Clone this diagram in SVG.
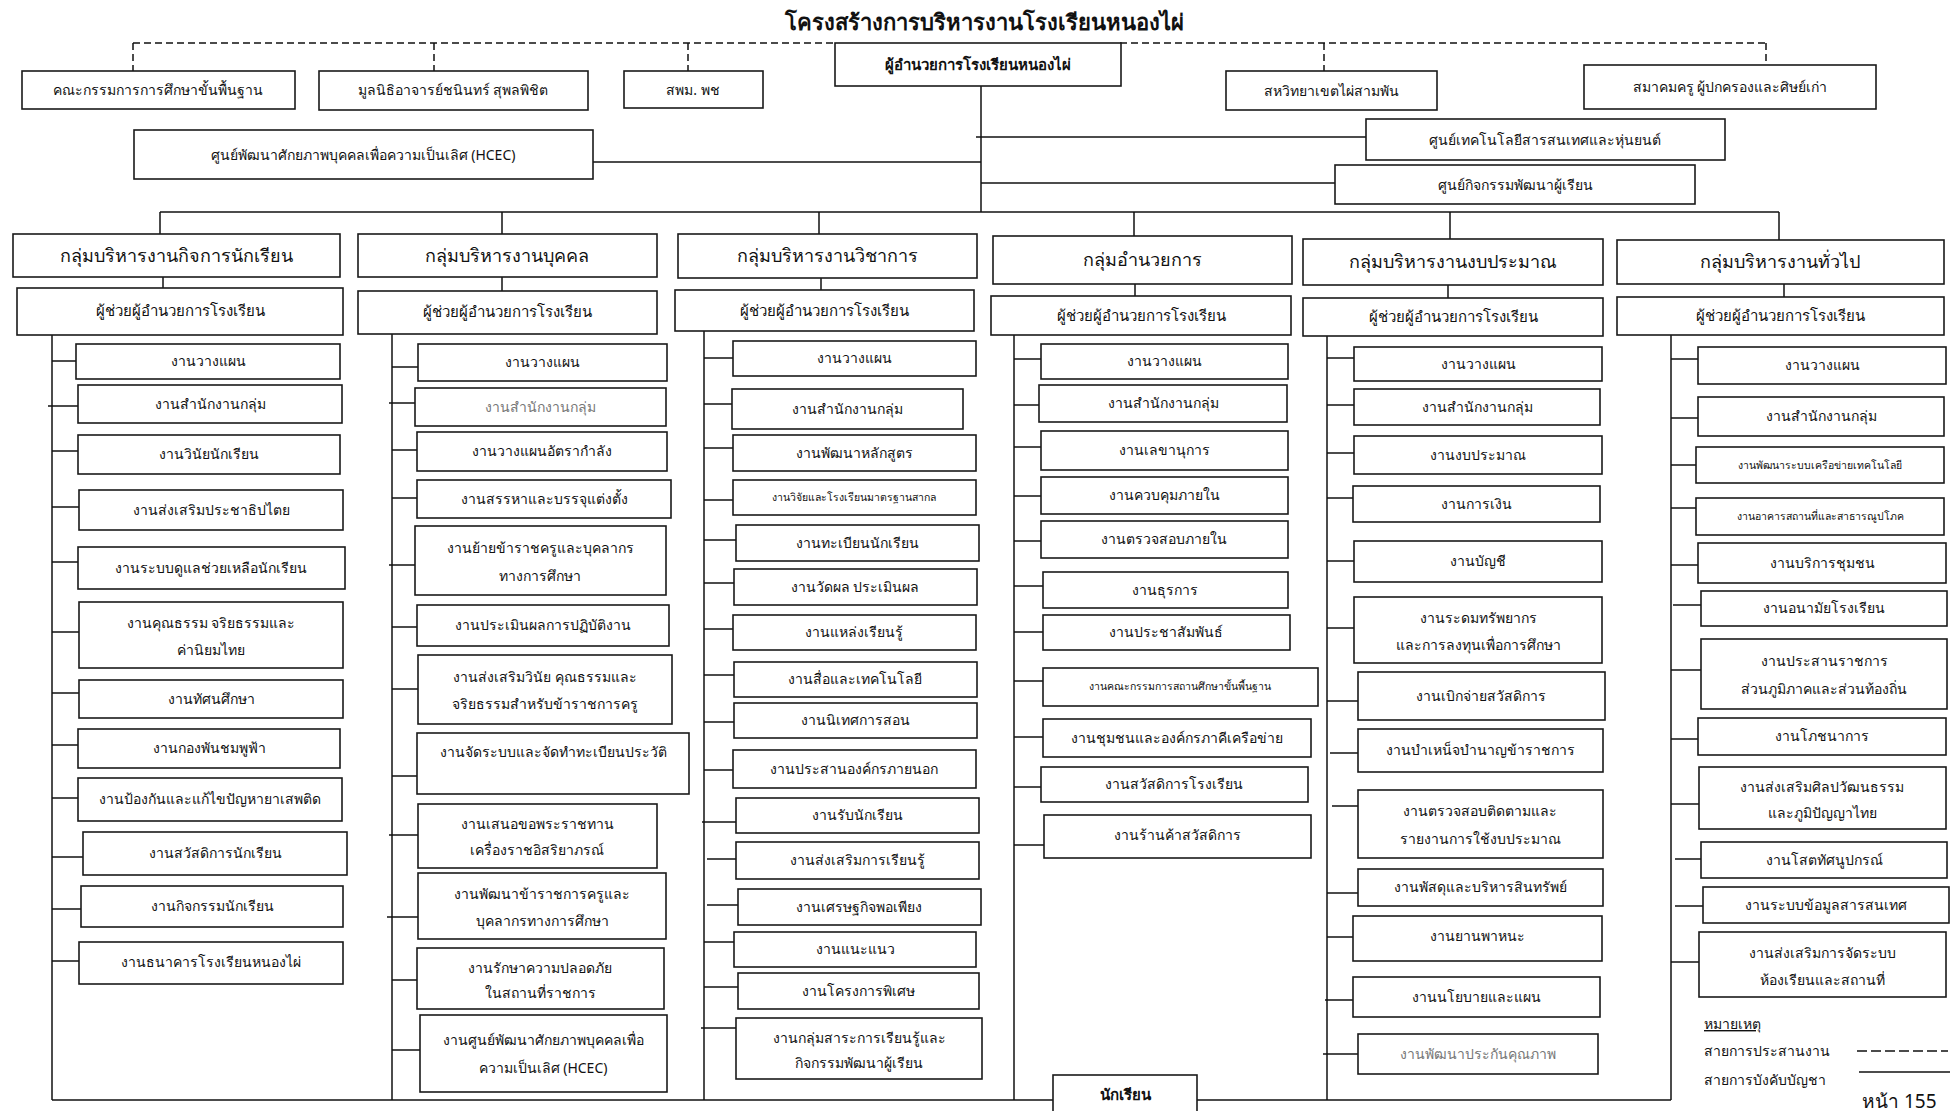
<svg xmlns="http://www.w3.org/2000/svg" width="1953" height="1111" viewBox="0 0 1953 1111">
<style>
.b{fill:#fff;stroke:#1a1a1a;stroke-width:1.6}
text{font-family:'Noto Sans','DejaVu Sans',sans-serif;fill:#111;text-anchor:middle;font-size:14px}
.g{font-size:18px}
.a{font-size:15px}
.s{font-size:10.5px}
.bold{font-weight:bold}
.gray{fill:#777}
.l{text-anchor:start}
.c line{stroke:#111;stroke-width:1.5;fill:none}
.c .d{stroke-dasharray:7 4}
</style>
<rect width="1953" height="1111" fill="#fff"/>
<text id="title" x="984" y="30" class="bold" style="font-size:22px">โครงสร้างการบริหารงานโรงเรียนหนองไผ่</text>
<g class="c" id="connectors">
<line class="d" x1="133" y1="43" x2="834" y2="43"/>
<line class="d" x1="1120" y1="43" x2="1766" y2="43"/>
<line class="d" x1="133" y1="43" x2="133" y2="71"/>
<line class="d" x1="434" y1="43" x2="434" y2="71"/>
<line class="d" x1="688" y1="43" x2="688" y2="71"/>
<line class="d" x1="1324" y1="43" x2="1324" y2="71"/>
<line class="d" x1="1766" y1="43" x2="1766" y2="65"/>
<line x1="981" y1="86" x2="981" y2="212"/>
<line x1="593" y1="162" x2="981" y2="162"/>
<line x1="976" y1="137" x2="1366" y2="137"/>
<line x1="981" y1="183" x2="1335" y2="183"/>
<line x1="160" y1="212" x2="1779" y2="212"/>
<line x1="160" y1="212" x2="160" y2="234"/>
<line x1="502" y1="212" x2="502" y2="234"/>
<line x1="819" y1="212" x2="819" y2="234"/>
<line x1="1134" y1="212" x2="1134" y2="236"/>
<line x1="1450" y1="212" x2="1450" y2="239"/>
<line x1="1779" y1="212" x2="1779" y2="240"/>
<line x1="163" y1="277" x2="163" y2="288"/>
<line x1="502" y1="277" x2="502" y2="291"/>
<line x1="821" y1="278" x2="821" y2="290"/>
<line x1="1135" y1="284" x2="1135" y2="296"/>
<line x1="1448" y1="285" x2="1448" y2="298"/>
<line x1="1784" y1="284" x2="1784" y2="297"/>
<line x1="52" y1="335" x2="52" y2="1100"/>
<line x1="392" y1="334" x2="392" y2="1100"/>
<line x1="704" y1="331" x2="704" y2="1100"/>
<line x1="1014" y1="335" x2="1014" y2="1100"/>
<line x1="1327" y1="336" x2="1327" y2="1100"/>
<line x1="1671" y1="335" x2="1671" y2="1100"/>
<line x1="52" y1="1100" x2="1671" y2="1100"/>
<line x1="52" y1="361" x2="76" y2="361"/><line x1="48" y1="406" x2="78" y2="406"/><line x1="52" y1="451" x2="78" y2="451"/><line x1="52" y1="507" x2="79" y2="507"/><line x1="52" y1="562" x2="78" y2="562"/><line x1="52" y1="632" x2="79" y2="632"/><line x1="52" y1="693" x2="79" y2="693"/><line x1="52" y1="745" x2="78" y2="745"/><line x1="52" y1="798" x2="78" y2="798"/><line x1="52" y1="857" x2="83" y2="857"/><line x1="52" y1="909" x2="81" y2="909"/><line x1="52" y1="961" x2="79" y2="961"/>
<line x1="392" y1="367" x2="418" y2="367"/><line x1="389" y1="403" x2="415" y2="403"/><line x1="392" y1="450" x2="417" y2="450"/><line x1="392" y1="498" x2="417" y2="498"/><line x1="389" y1="565" x2="415" y2="565"/><line x1="392" y1="627" x2="417" y2="627"/><line x1="392" y1="689" x2="418" y2="689"/><line x1="392" y1="776" x2="417" y2="776"/><line x1="389" y1="835" x2="418" y2="835"/><line x1="387" y1="917" x2="418" y2="917"/><line x1="392" y1="980" x2="417" y2="980"/><line x1="392" y1="1050" x2="420" y2="1050"/>
<line x1="704" y1="358" x2="733" y2="358"/><line x1="704" y1="404" x2="732" y2="404"/><line x1="704" y1="448" x2="733" y2="448"/><line x1="704" y1="500" x2="733" y2="500"/><line x1="704" y1="540" x2="736" y2="540"/><line x1="704" y1="583" x2="734" y2="583"/><line x1="704" y1="629" x2="733" y2="629"/><line x1="704" y1="675" x2="734" y2="675"/><line x1="704" y1="722" x2="734" y2="722"/><line x1="704" y1="770" x2="733" y2="770"/><line x1="702" y1="822" x2="736" y2="822"/><line x1="707" y1="859" x2="736" y2="859"/><line x1="707" y1="905" x2="738" y2="905"/><line x1="704" y1="942" x2="734" y2="942"/><line x1="704" y1="987" x2="738" y2="987"/><line x1="701" y1="1028" x2="736" y2="1028"/>
<line x1="1014" y1="359" x2="1041" y2="359"/><line x1="1014" y1="405" x2="1039" y2="405"/><line x1="1014" y1="447" x2="1041" y2="447"/><line x1="1014" y1="496" x2="1041" y2="496"/><line x1="1014" y1="541" x2="1041" y2="541"/><line x1="1014" y1="586" x2="1043" y2="586"/><line x1="1014" y1="632" x2="1043" y2="632"/><line x1="1014" y1="681" x2="1043" y2="681"/><line x1="1014" y1="737" x2="1043" y2="737"/><line x1="1014" y1="787" x2="1041" y2="787"/><line x1="1014" y1="845" x2="1044" y2="845"/>
<line x1="1327" y1="358" x2="1354" y2="358"/><line x1="1327" y1="405" x2="1354" y2="405"/><line x1="1327" y1="453" x2="1354" y2="453"/><line x1="1327" y1="498" x2="1353" y2="498"/><line x1="1327" y1="561" x2="1354" y2="561"/><line x1="1327" y1="628" x2="1354" y2="628"/><line x1="1327" y1="701" x2="1358" y2="701"/><line x1="1330" y1="753" x2="1358" y2="753"/><line x1="1332" y1="806" x2="1358" y2="806"/><line x1="1327" y1="893" x2="1358" y2="893"/><line x1="1327" y1="937" x2="1353" y2="937"/><line x1="1325" y1="1000" x2="1353" y2="1000"/><line x1="1323" y1="1054" x2="1358" y2="1054"/>
<line x1="1671" y1="359" x2="1698" y2="359"/><line x1="1671" y1="418" x2="1698" y2="418"/><line x1="1671" y1="465" x2="1700" y2="465"/><line x1="1671" y1="508" x2="1700" y2="508"/><line x1="1671" y1="565" x2="1698" y2="565"/><line x1="1673" y1="605" x2="1701" y2="605"/><line x1="1671" y1="670" x2="1701" y2="670"/><line x1="1671" y1="739" x2="1698" y2="739"/><line x1="1671" y1="804" x2="1699" y2="804"/><line x1="1675" y1="859" x2="1701" y2="859"/><line x1="1675" y1="906" x2="1703" y2="906"/><line x1="1671" y1="962" x2="1699" y2="962"/>
</g>
<g id="director"><rect class="b" x="835" y="43" width="286" height="43"/><text x="978" y="70" class="bold a">ผู้อำนวยการโรงเรียนหนองไผ่</text></g>
<g id="h1"><rect class="b" x="22" y="71" width="273" height="38"/><text x="158" y="95">คณะกรรมการการศึกษาขั้นพื้นฐาน</text></g>
<g id="h2"><rect class="b" x="319" y="71" width="269" height="39"/><text x="453" y="95">มูลนิธิอาจารย์ชนินทร์ สุพลพิชิต</text></g>
<g id="h3"><rect class="b" x="624" y="71" width="139" height="37"/><text x="693" y="95">สพม. พช</text></g>
<g id="h4"><rect class="b" x="1226" y="71" width="211" height="39"/><text x="1331" y="96">สหวิทยาเขตไผ่สามพัน</text></g>
<g id="h5"><rect class="b" x="1584" y="65" width="292" height="44"/><text x="1730" y="92">สมาคมครู ผู้ปกครองและศิษย์เก่า</text></g>
<g id="hcec"><rect class="b" x="134" y="130" width="459" height="49"/><text x="363" y="160">ศูนย์พัฒนาศักยภาพบุคคลเพื่อความเป็นเลิศ (HCEC)</text></g>
<g id="ict"><rect class="b" x="1366" y="119" width="359" height="41"/><text x="1545" y="145">ศูนย์เทคโนโลยีสารสนเทศและหุ่นยนต์</text></g>
<g id="act"><rect class="b" x="1335" y="165" width="360" height="39"/><text x="1515" y="190">ศูนย์กิจกรรมพัฒนาผู้เรียน</text></g>
<g id="student"><rect class="b" x="1053" y="1075" width="144" height="45"/><text x="1125" y="1100" class="bold a">นักเรียน</text></g>

<g id="g1"><rect class="b" x="13" y="234" width="327" height="43"/><text x="176" y="262" class="g">กลุ่มบริหารงานกิจการนักเรียน</text></g>
<g id="g1a"><rect class="b" x="17" y="288" width="326" height="47"/><text x="180" y="316" class="a">ผู้ช่วยผู้อำนวยการโรงเรียน</text></g>
<g id="g1-1"><rect class="b" x="76" y="344" width="264" height="35"/><text x="208" y="366">งานวางแผน</text></g>
<g id="g1-2"><rect class="b" x="78" y="385" width="264" height="38"/><text x="210" y="409">งานสำนักงานกลุ่ม</text></g>
<g id="g1-3"><rect class="b" x="78" y="435" width="262" height="39"/><text x="209" y="459">งานวินัยนักเรียน</text></g>
<g id="g1-4"><rect class="b" x="79" y="490" width="264" height="40"/><text x="211" y="515">งานส่งเสริมประชาธิปไตย</text></g>
<g id="g1-5"><rect class="b" x="78" y="547" width="267" height="42"/><text x="211" y="573">งานระบบดูแลช่วยเหลือนักเรียน</text></g>
<g id="g1-6"><rect class="b" x="79" y="602" width="264" height="66"/><text x="211" y="628">งานคุณธรรม จริยธรรมและ</text><text x="211" y="655">ค่านิยมไทย</text></g>
<g id="g1-7"><rect class="b" x="79" y="680" width="264" height="38"/><text x="211" y="704">งานทัศนศึกษา</text></g>
<g id="g1-8"><rect class="b" x="78" y="729" width="262" height="39"/><text x="209" y="753">งานกองพันชมพูฟ้า</text></g>
<g id="g1-9"><rect class="b" x="78" y="778" width="264" height="43"/><text x="210" y="804">งานป้องกันและแก้ไขปัญหายาเสพติด</text></g>
<g id="g1-10"><rect class="b" x="83" y="832" width="264" height="43"/><text x="215" y="858">งานสวัสดิการนักเรียน</text></g>
<g id="g1-11"><rect class="b" x="81" y="886" width="262" height="41"/><text x="212" y="911">งานกิจกรรมนักเรียน</text></g>
<g id="g1-12"><rect class="b" x="79" y="942" width="264" height="42"/><text x="211" y="967">งานธนาคารโรงเรียนหนองไผ่</text></g>

<g id="g2"><rect class="b" x="358" y="234" width="299" height="43"/><text x="507" y="262" class="g">กลุ่มบริหารงานบุคคล</text></g>
<g id="g2a"><rect class="b" x="358" y="291" width="299" height="43"/><text x="507" y="317" class="a">ผู้ช่วยผู้อำนวยการโรงเรียน</text></g>
<g id="g2-1"><rect class="b" x="418" y="344" width="249" height="37"/><text x="542" y="367">งานวางแผน</text></g>
<g id="g2-2"><rect class="b" x="415" y="388" width="251" height="38"/><text x="540" y="412" class="gray">งานสำนักงานกลุ่ม</text></g>
<g id="g2-3"><rect class="b" x="417" y="432" width="250" height="39"/><text x="542" y="456">งานวางแผนอัตรากำลัง</text></g>
<g id="g2-4"><rect class="b" x="417" y="480" width="254" height="38"/><text x="544" y="504">งานสรรหาและบรรจุแต่งตั้ง</text></g>
<g id="g2-5"><rect class="b" x="415" y="526" width="251" height="69"/><text x="540" y="553">งานย้ายข้าราชครูและบุคลากร</text><text x="540" y="581">ทางการศึกษา</text></g>
<g id="g2-6"><rect class="b" x="417" y="605" width="252" height="41"/><text x="543" y="630">งานประเมินผลการปฏิบัติงาน</text></g>
<g id="g2-7"><rect class="b" x="418" y="655" width="254" height="69"/><text x="545" y="682">งานส่งเสริมวินัย คุณธรรมและ</text><text x="545" y="709">จริยธรรมสำหรับข้าราชการครู</text></g>
<g id="g2-8"><rect class="b" x="417" y="733" width="272" height="61"/><text x="553" y="757">งานจัดระบบและจัดทำทะเบียนประวัติ</text></g>
<g id="g2-9"><rect class="b" x="418" y="804" width="239" height="64"/><text x="537" y="829">งานเสนอขอพระราชทาน</text><text x="537" y="855">เครื่องราชอิสริยาภรณ์</text></g>
<g id="g2-10"><rect class="b" x="418" y="873" width="248" height="66"/><text x="542" y="899">งานพัฒนาข้าราชการครูและ</text><text x="542" y="926">บุคลากรทางการศึกษา</text></g>
<g id="g2-11"><rect class="b" x="417" y="948" width="247" height="61"/><text x="540" y="973">งานรักษาความปลอดภัย</text><text x="540" y="998">ในสถานที่ราชการ</text></g>
<g id="g2-12"><rect class="b" x="420" y="1015" width="247" height="77"/><text x="543" y="1045">งานศูนย์พัฒนาศักยภาพบุคคลเพื่อ</text><text x="543" y="1073">ความเป็นเลิศ (HCEC)</text></g>

<g id="g3"><rect class="b" x="678" y="234" width="299" height="44"/><text x="827" y="262" class="g">กลุ่มบริหารงานวิชาการ</text></g>
<g id="g3a"><rect class="b" x="675" y="290" width="299" height="41"/><text x="824" y="316" class="a">ผู้ช่วยผู้อำนวยการโรงเรียน</text></g>
<g id="g3-1"><rect class="b" x="733" y="341" width="243" height="35"/><text x="854" y="363">งานวางแผน</text></g>
<g id="g3-2"><rect class="b" x="732" y="389" width="231" height="40"/><text x="847" y="414">งานสำนักงานกลุ่ม</text></g>
<g id="g3-3"><rect class="b" x="733" y="435" width="243" height="36"/><text x="854" y="458">งานพัฒนาหลักสูตร</text></g>
<g id="g3-4"><rect class="b" x="733" y="480" width="243" height="35"/><text x="854" y="501" class="s">งานวิจัยและโรงเรียนมาตรฐานสากล</text></g>
<g id="g3-5"><rect class="b" x="736" y="525" width="243" height="36"/><text x="857" y="548">งานทะเบียนนักเรียน</text></g>
<g id="g3-6"><rect class="b" x="734" y="569" width="243" height="36"/><text x="855" y="592">งานวัดผล ประเมินผล</text></g>
<g id="g3-7"><rect class="b" x="733" y="615" width="243" height="35"/><text x="854" y="637">งานแหล่งเรียนรู้</text></g>
<g id="g3-8"><rect class="b" x="734" y="662" width="243" height="35"/><text x="855" y="684">งานสื่อและเทคโนโลยี</text></g>
<g id="g3-9"><rect class="b" x="734" y="703" width="243" height="35"/><text x="855" y="725">งานนิเทศการสอน</text></g>
<g id="g3-10"><rect class="b" x="733" y="750" width="243" height="38"/><text x="854" y="774">งานประสานองค์กรภายนอก</text></g>
<g id="g3-11"><rect class="b" x="736" y="798" width="243" height="35"/><text x="857" y="820">งานรับนักเรียน</text></g>
<g id="g3-12"><rect class="b" x="736" y="842" width="243" height="37"/><text x="857" y="865">งานส่งเสริมการเรียนรู้</text></g>
<g id="g3-13"><rect class="b" x="738" y="889" width="243" height="36"/><text x="859" y="912">งานเศรษฐกิจพอเพียง</text></g>
<g id="g3-14"><rect class="b" x="734" y="932" width="242" height="35"/><text x="855" y="954">งานแนะแนว</text></g>
<g id="g3-15"><rect class="b" x="738" y="973" width="241" height="36"/><text x="858" y="996">งานโครงการพิเศษ</text></g>
<g id="g3-16"><rect class="b" x="736" y="1018" width="246" height="61"/><text x="859" y="1043">งานกลุ่มสาระการเรียนรู้และ</text><text x="859" y="1068">กิจกรรมพัฒนาผู้เรียน</text></g>

<g id="g4"><rect class="b" x="993" y="236" width="299" height="48"/><text x="1142" y="266" class="g">กลุ่มอำนวยการ</text></g>
<g id="g4a"><rect class="b" x="991" y="296" width="300" height="39"/><text x="1141" y="321" class="a">ผู้ช่วยผู้อำนวยการโรงเรียน</text></g>
<g id="g4-1"><rect class="b" x="1041" y="344" width="247" height="35"/><text x="1164" y="366">งานวางแผน</text></g>
<g id="g4-2"><rect class="b" x="1039" y="385" width="248" height="37"/><text x="1163" y="408">งานสำนักงานกลุ่ม</text></g>
<g id="g4-3"><rect class="b" x="1041" y="431" width="247" height="39"/><text x="1164" y="455">งานเลขานุการ</text></g>
<g id="g4-4"><rect class="b" x="1041" y="477" width="247" height="37"/><text x="1164" y="500">งานควบคุมภายใน</text></g>
<g id="g4-5"><rect class="b" x="1041" y="521" width="247" height="37"/><text x="1164" y="544">งานตรวจสอบภายใน</text></g>
<g id="g4-6"><rect class="b" x="1043" y="572" width="245" height="36"/><text x="1165" y="595">งานธุรการ</text></g>
<g id="g4-7"><rect class="b" x="1043" y="615" width="247" height="35"/><text x="1166" y="637">งานประชาสัมพันธ์</text></g>
<g id="g4-8"><rect class="b" x="1043" y="668" width="275" height="38"/><text x="1180" y="690" class="s">งานคณะกรรมการสถานศึกษาขั้นพื้นฐาน</text></g>
<g id="g4-9"><rect class="b" x="1043" y="719" width="268" height="38"/><text x="1177" y="743">งานชุมชนและองค์กรภาคีเครือข่าย</text></g>
<g id="g4-10"><rect class="b" x="1041" y="767" width="267" height="35"/><text x="1174" y="789">งานสวัสดิการโรงเรียน</text></g>
<g id="g4-11"><rect class="b" x="1044" y="815" width="267" height="43"/><text x="1177" y="840">งานร้านค้าสวัสดิการ</text></g>

<g id="g5"><rect class="b" x="1303" y="239" width="300" height="46"/><text x="1453" y="268" class="g">กลุ่มบริหารงานงบประมาณ</text></g>
<g id="g5a"><rect class="b" x="1303" y="298" width="300" height="38"/><text x="1453" y="322" class="a">ผู้ช่วยผู้อำนวยการโรงเรียน</text></g>
<g id="g5-1"><rect class="b" x="1354" y="347" width="248" height="34"/><text x="1478" y="369">งานวางแผน</text></g>
<g id="g5-2"><rect class="b" x="1354" y="389" width="246" height="36"/><text x="1477" y="412">งานสำนักงานกลุ่ม</text></g>
<g id="g5-3"><rect class="b" x="1354" y="436" width="248" height="38"/><text x="1478" y="460">งานงบประมาณ</text></g>
<g id="g5-4"><rect class="b" x="1353" y="486" width="247" height="36"/><text x="1476" y="509">งานการเงิน</text></g>
<g id="g5-5"><rect class="b" x="1354" y="541" width="248" height="41"/><text x="1478" y="566">งานบัญชี</text></g>
<g id="g5-6"><rect class="b" x="1354" y="597" width="248" height="66"/><text x="1478" y="623">งานระดมทรัพยากร</text><text x="1478" y="650">และการลงทุนเพื่อการศึกษา</text></g>
<g id="g5-7"><rect class="b" x="1358" y="672" width="247" height="48"/><text x="1481" y="701">งานเบิกจ่ายสวัสดิการ</text></g>
<g id="g5-8"><rect class="b" x="1358" y="729" width="245" height="43"/><text x="1480" y="755">งานบำเหน็จบำนาญข้าราชการ</text></g>
<g id="g5-9"><rect class="b" x="1358" y="790" width="245" height="68"/><text x="1480" y="816">งานตรวจสอบติดตามและ</text><text x="1480" y="844">รายงานการใช้งบประมาณ</text></g>
<g id="g5-10"><rect class="b" x="1358" y="869" width="245" height="37"/><text x="1480" y="892">งานพัสดุและบริหารสินทรัพย์</text></g>
<g id="g5-11"><rect class="b" x="1353" y="916" width="249" height="45"/><text x="1477" y="941">งานยานพาหนะ</text></g>
<g id="g5-12"><rect class="b" x="1353" y="977" width="247" height="40"/><text x="1476" y="1002">งานนโยบายและแผน</text></g>
<g id="g5-13"><rect class="b" x="1358" y="1034" width="240" height="40"/><text x="1478" y="1059" class="gray">งานพัฒนาประกันคุณภาพ</text></g>

<g id="g6"><rect class="b" x="1617" y="240" width="327" height="44"/><text x="1780" y="268" class="g">กลุ่มบริหารงานทั่วไป</text></g>
<g id="g6a"><rect class="b" x="1617" y="297" width="327" height="38"/><text x="1780" y="321" class="a">ผู้ช่วยผู้อำนวยการโรงเรียน</text></g>
<g id="g6-1"><rect class="b" x="1698" y="347" width="248" height="37"/><text x="1822" y="370">งานวางแผน</text></g>
<g id="g6-2"><rect class="b" x="1698" y="397" width="246" height="39"/><text x="1821" y="421">งานสำนักงานกลุ่ม</text></g>
<g id="g6-3"><rect class="b" x="1696" y="447" width="248" height="36"/><text x="1820" y="469" class="s">งานพัฒนาระบบเครือข่ายเทคโนโลยี</text></g>
<g id="g6-4"><rect class="b" x="1696" y="498" width="248" height="37"/><text x="1820" y="520" class="s">งานอาคารสถานที่และสาธารณูปโภค</text></g>
<g id="g6-5"><rect class="b" x="1698" y="543" width="248" height="40"/><text x="1822" y="568">งานบริการชุมชน</text></g>
<g id="g6-6"><rect class="b" x="1701" y="591" width="246" height="35"/><text x="1824" y="613">งานอนามัยโรงเรียน</text></g>
<g id="g6-7"><rect class="b" x="1701" y="639" width="246" height="70"/><text x="1824" y="666">งานประสานราชการ</text><text x="1824" y="694">ส่วนภูมิภาคและส่วนท้องถิ่น</text></g>
<g id="g6-8"><rect class="b" x="1698" y="718" width="248" height="37"/><text x="1822" y="741">งานโภชนาการ</text></g>
<g id="g6-9"><rect class="b" x="1699" y="767" width="247" height="62"/><text x="1822" y="792">งานส่งเสริมศิลปวัฒนธรรม</text><text x="1822" y="818">และภูมิปัญญาไทย</text></g>
<g id="g6-10"><rect class="b" x="1701" y="842" width="246" height="36"/><text x="1824" y="865">งานโสตทัศนูปกรณ์</text></g>
<g id="g6-11"><rect class="b" x="1703" y="887" width="246" height="36"/><text x="1826" y="910">งานระบบข้อมูลสารสนเทศ</text></g>
<g id="g6-12"><rect class="b" x="1699" y="932" width="247" height="65"/><text x="1822" y="958">งานส่งเสริมการจัดระบบ</text><text x="1822" y="985">ห้องเรียนและสถานที่</text></g>

<g id="legend">
<text x="1704" y="1029" class="l" style="text-decoration:underline">หมายเหตุ</text>
<text x="1704" y="1056" class="l">สายการประสานงาน</text>
<line x1="1857" y1="1051" x2="1948" y2="1051" stroke="#111" stroke-width="1.5" stroke-dasharray="10 4"/>
<text x="1704" y="1085" class="l">สายการบังคับบัญชา</text>
<line x1="1859" y1="1072" x2="1950" y2="1072" stroke="#111" stroke-width="1.5"/>
<text x="1862" y="1108" class="l" style="font-size:19px">หน้า 155</text>
</g>
</svg>
